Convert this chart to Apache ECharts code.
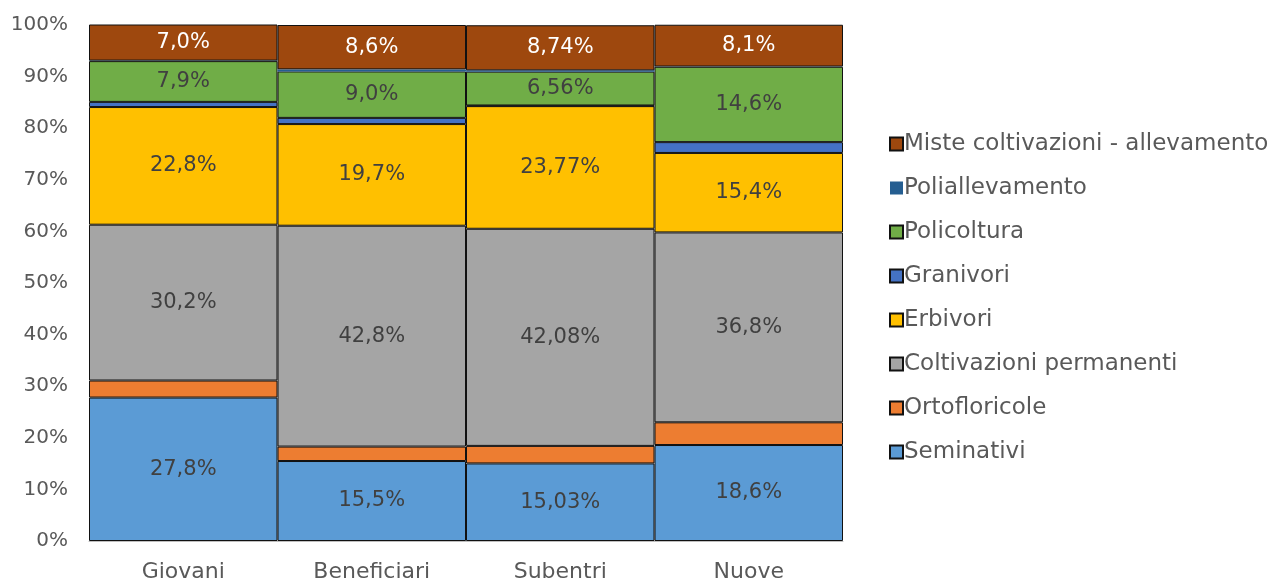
<!DOCTYPE html>
<html>
<head>
<meta charset="utf-8">
<script src="https://cdn.jsdelivr.net/npm/echarts@6/dist/echarts.min.js"></script>
<style>
  html, body { margin: 0; padding: 0; background: #fff; }
  #chart { width: 1269px; height: 581px; }
</style>
</head>
<body>
<div id="chart"></div>
<script>
  // categorie e valori (%)
  var categories = ['Giovani', 'Beneficiari', 'Subentri', 'Nuove'];
  var decimals = [1, 1, 2, 1];

  var seminativi = [27.8, 15.5, 15.03, 18.6];
  var ortofloricole = [3.3, 2.8, 3.4, 4.4];
  var coltivazioni = [30.2, 42.8, 42.08, 36.8];
  var erbivori = [22.8, 19.7, 23.77, 15.4];
  var granivori = [1.0, 1.2, 0.12, 2.1];
  var policoltura = [7.9, 9.0, 6.56, 14.6];
  var poliallevamento = [0.1, 0.4, 0.25, 0.05];
  var miste = [7.0, 8.6, 8.74, 8.1];

  var yTicks = [0, 10, 20, 30, 40, 50, 60, 70, 80, 90, 100];

  var font = 'DejaVu Sans';

  function fmt(p) {
    return p.value.toFixed(decimals[p.dataIndex]).replace('.', ',') + '%';
  }

  function serie(name, data, color, showLabel, labelColor, border) {
    return {
      name: name,
      type: 'bar',
      stack: 'tot',
      data: data,
      barWidth: '100%',
      itemStyle: {
        color: color,
        borderColor: border === false ? color : '#111',
        borderWidth: border === false ? 0 : 1
      },
      label: {
        show: showLabel,
        position: 'inside',
        formatter: fmt,
        color: labelColor || '#404040',
        fontFamily: font,
        fontSize: 21
      },
      emphasis: { disabled: true }
    };
  }

  var series = [
    serie('Seminativi', seminativi, '#5B9BD5', true),
    serie('Ortofloricole', ortofloricole, '#ED7D31', false),
    serie('Coltivazioni permanenti', coltivazioni, '#A5A5A5', true),
    serie('Erbivori', erbivori, '#FFC000', true),
    serie('Granivori', granivori, '#4472C4', false),
    serie('Policoltura', policoltura, '#70AD47', true),
    serie('Poliallevamento', poliallevamento, '#255E91', false, null, false),
    serie('Miste coltivazioni - allevamento', miste, '#9E480E', true, '#ffffff')
  ];

  var chart = echarts.init(document.getElementById('chart'));
  var option = {
    animation: false,
    grid: { left: 89, right: 426, top: 25, bottom: 40, outerBoundsMode: 'none' },
    legend: {
      orient: 'vertical',
      left: 884,
      top: 126,
      itemWidth: 13,
      itemHeight: 13,
      itemGap: 18,
      icon: 'rect',
      data: series.map(function (s) { return s.name; }).reverse(),
      textStyle: {
        color: '#595959', fontFamily: font, fontSize: 23,
        lineHeight: 26, padding: [0, 0, 0, -4]
      }
    },
    xAxis: {
      type: 'category',
      data: categories,
      axisLine: { lineStyle: { color: '#bfbfbf' } },
      axisTick: { show: false },
      axisLabel: { color: '#595959', fontFamily: font, fontSize: 22, margin: 20 }
    },
    yAxis: {
      type: 'value',
      min: 0,
      max: 100,
      interval: 10,
      splitLine: { show: false },
      axisLine: { show: false },
      axisTick: { show: false },
      axisLabel: {
        color: '#595959',
        fontFamily: font,
        fontSize: 20,
        margin: 21,
        formatter: function (v) { return yTicks.indexOf(v) >= 0 ? v + '%' : ''; }
      }
    },
    series: series
  };
  chart.setOption(option);
</script>
</body>
</html>
